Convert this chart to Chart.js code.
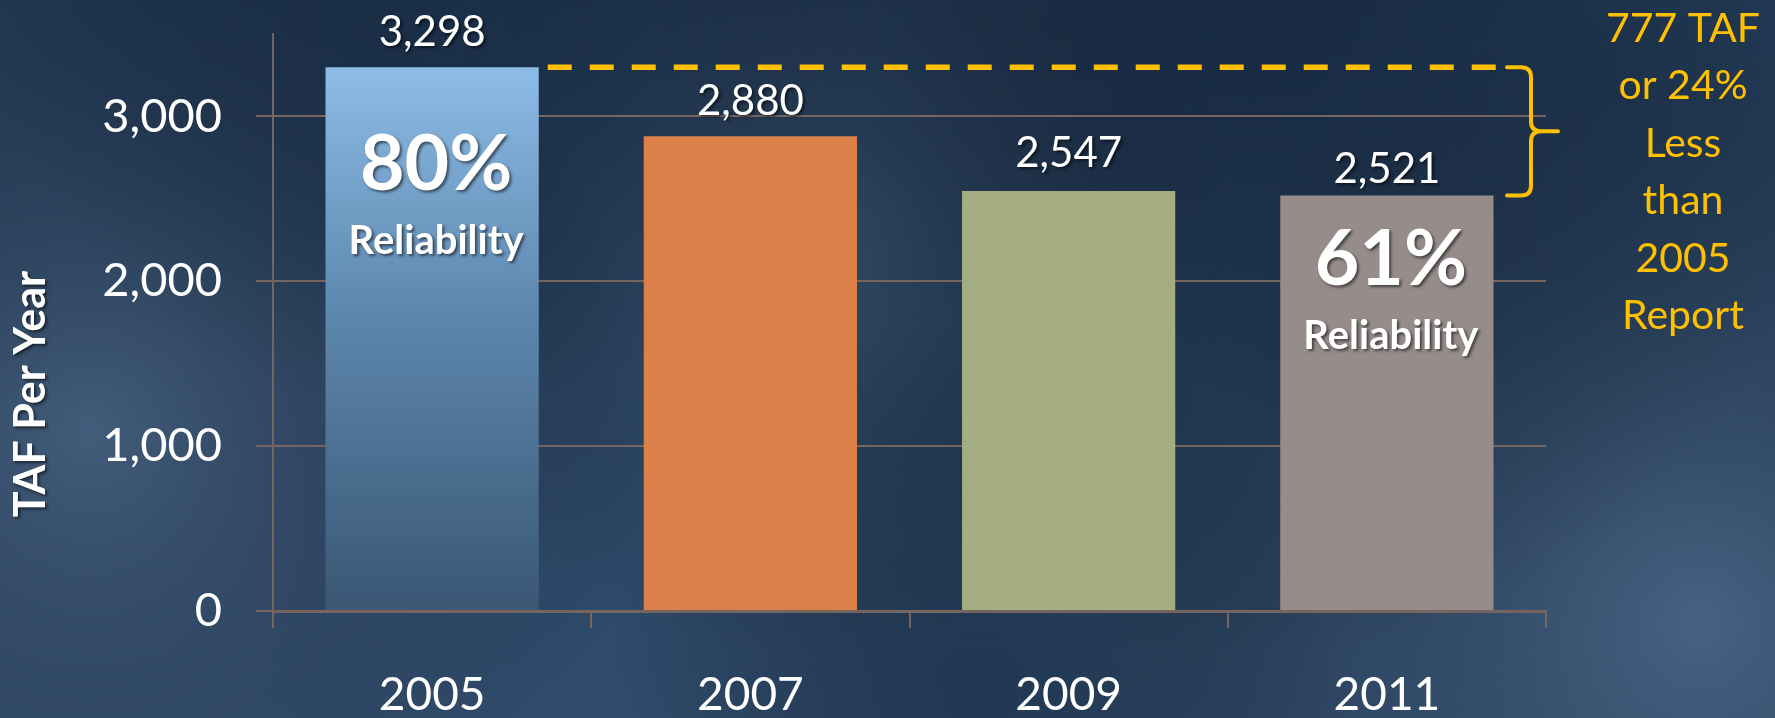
<!DOCTYPE html>
<html>
<head>
<meta charset="utf-8">
<title>TAF Per Year</title>
<script src="https://cdn.jsdelivr.net/npm/chart.js@4.4.1/dist/chart.umd.min.js"></script>
<style>
    html, body { margin: 0; padding: 0; background: #223a58; overflow: hidden; }
    #wrap { width: 1775px; height: 718px; position: relative; }
</style>
</head>
<body>
<div id="wrap"><canvas id="tafChart"></canvas></div>
<script>
// --- Datos del grafico ---
const years = ['2005', '2007', '2009', '2011'];
const tafValues = [3298, 2880, 2547, 2521];
const reliability = ['80%', '', '', '61%'];
const yTicks = [0, 1000, 2000, 3000];
const yMax = 3500;
const axisTitle = 'TAF Per Year';
const noteLines = ['777 TAF', 'or 24%', 'Less', 'than', '2005', 'Report'];

const barColors = ['#6d94bb', '#dc8049', '#a4ac82', '#968d8b'];
const gridColor = '#76655e';
const yellow = '#ffc000';
const fontFamily = 'Lato, "Open Sans", sans-serif';

document.addEventListener('DOMContentLoaded', () => {

    // --- Fondo azul con manchas de luz ---
    const fondoPlugin = {
        id: 'fondo',
        beforeDraw(chart) {
            const { ctx, width, height } = chart;
            ctx.save();
            const base = ctx.createLinearGradient(0, 0, 0, height);
            base.addColorStop(0, '#223b58');
            base.addColorStop(1, '#314d6e');
            ctx.fillStyle = base;
            ctx.fillRect(0, 0, width, height);

            const spot = (x, y, r, color) => {
                const g = ctx.createRadialGradient(x, y, 0, x, y, r);
                g.addColorStop(0, color);
                g.addColorStop(1, 'rgba(0,0,0,0)');
                ctx.fillStyle = g;
                ctx.fillRect(0, 0, width, height);
            };
            spot(90, 430, 560, 'rgba(95,120,150,0.45)');
            spot(1700, 620, 620, 'rgba(100,128,160,0.45)');
            spot(820, 240, 420, 'rgba(90,115,145,0.32)');
            spot(980, 700, 380, 'rgba(10,25,45,0.40)');
            spot(1250, 60, 600, 'rgba(10,22,40,0.45)');
            spot(430, -40, 460, 'rgba(10,22,40,0.35)');
            ctx.restore();
        }
    };

    // --- Etiquetas, linea punteada, llave y nota ---
    const anotacionesPlugin = {
        id: 'anotaciones',
        afterDatasetsDraw(chart, args, opts) {
            const { ctx, chartArea, scales: { y } } = chart;
            const bars = chart.getDatasetMeta(0).data;
            ctx.save();

            // linea punteada desde la barra de 2005 hasta la llave
            const yTop = y.getPixelForValue(tafValues[0]);
            const yLow = y.getPixelForValue(tafValues[tafValues.length - 1]);
            const armX = chartArea.right - 39;
            const braceX = chartArea.right - 15;
            const tipX = chartArea.right + 12;
            const firstRight = bars[0].x + bars[0].width / 2;

            ctx.strokeStyle = yellow;
            ctx.lineWidth = 5.5;
            ctx.setLineDash([24, 18]);
            ctx.beginPath();
            ctx.moveTo(firstRight + 9, yTop);
            ctx.lineTo(armX - 4, yTop);
            ctx.stroke();

            // llave
            ctx.setLineDash([]);
            ctx.lineWidth = 4;
            ctx.lineCap = 'round';
            ctx.lineJoin = 'round';
            const mid = (yTop + yLow) / 2;
            const r = 10;
            ctx.beginPath();
            ctx.moveTo(armX, yTop);
            ctx.lineTo(braceX - r, yTop);
            ctx.quadraticCurveTo(braceX, yTop, braceX, yTop + r);
            ctx.lineTo(braceX, mid - r);
            ctx.quadraticCurveTo(braceX, mid, braceX + r, mid);
            ctx.lineTo(tipX, mid);
            ctx.moveTo(braceX + r, mid);
            ctx.quadraticCurveTo(braceX, mid, braceX, mid + r);
            ctx.lineTo(braceX, yLow - r);
            ctx.quadraticCurveTo(braceX, yLow, braceX - r, yLow);
            ctx.lineTo(armX, yLow);
            ctx.stroke();

            // nota amarilla a la derecha
            ctx.fillStyle = yellow;
            ctx.font = `41px ${fontFamily}`;
            ctx.textAlign = 'center';
            ctx.textBaseline = 'alphabetic';
            noteLines.forEach((line, i) => {
                ctx.fillText(line, chartArea.right + 137, 42 + i * 57.4);
            });

            // valores sobre las barras
            ctx.shadowColor = 'rgba(0,0,0,0.55)';
            ctx.shadowOffsetX = 2;
            ctx.shadowOffsetY = 2;
            ctx.shadowBlur = 3;
            ctx.fillStyle = '#ffffff';
            ctx.font = `42px ${fontFamily}`;
            bars.forEach((bar, i) => {
                ctx.fillText(tafValues[i].toLocaleString('en-US'), bar.x, bar.y - opts.valueOffset[i]);
            });

            // confiabilidad dentro de las barras
            bars.forEach((bar, i) => {
                if (!reliability[i]) return;
                const base = bar.y + opts.pctOffset[i];
                ctx.font = `bold 77px ${fontFamily}`;
                ctx.fillText(reliability[i], bar.x + 4, base);
                ctx.font = `bold 40px ${fontFamily}`;
                ctx.fillText('Reliability', bar.x + 4, base + 64);
            });
            ctx.restore();
        },
        afterDraw(chart) {
            // titulo del eje Y
            const { ctx } = chart;
            ctx.save();
            ctx.translate(31, 394);
            ctx.rotate(-Math.PI / 2);
            ctx.shadowColor = 'rgba(0,0,0,0.55)';
            ctx.shadowOffsetX = 2;
            ctx.shadowOffsetY = 2;
            ctx.shadowBlur = 3;
            ctx.fillStyle = '#ffffff';
            ctx.font = `bold 43px ${fontFamily}`;
            ctx.textAlign = 'center';
            ctx.textBaseline = 'middle';
            ctx.fillText(axisTitle, 0, 0);
            ctx.restore();
        }
    };

    const ctxTaf = document.getElementById('tafChart').getContext('2d');

    new Chart(ctxTaf, {
        type: 'bar',
        data: {
            labels: years,
            datasets: [{
                label: axisTitle,
                data: tafValues,
                backgroundColor: (c) => {
                    if (c.dataIndex !== 0) return barColors[c.dataIndex];
                    const area = c.chart.chartArea;
                    if (!area) return barColors[0];
                    const top = c.chart.scales.y.getPixelForValue(tafValues[0]);
                    const g = c.chart.ctx.createLinearGradient(0, top, 0, area.bottom);
                    g.addColorStop(0, '#8dbce7');
                    g.addColorStop(0.45, '#5d87ad');
                    g.addColorStop(1, '#3a5774');
                    return g;
                },
                borderWidth: 0,
                categoryPercentage: 1,
                barPercentage: 0.67
            }]
        },
        options: {
            responsive: true,
            maintainAspectRatio: false,
            animation: false,
            layout: { padding: { top: 34, right: 229, left: 0, bottom: 0 } },
            scales: {
                x: {
                    grid: {
                        drawOnChartArea: false,
                        color: gridColor,
                        lineWidth: 2,
                        tickLength: 17
                    },
                    border: { color: gridColor, width: 3 },
                    ticks: {
                        color: '#ffffff',
                        font: { family: fontFamily, size: 46 },
                        padding: 40
                    },
                    afterFit: (axis) => { axis.height = 107; }
                },
                y: {
                    min: 0,
                    max: yMax,
                    afterBuildTicks: (axis) => {
                        axis.ticks = yTicks.map(v => ({ value: v }));
                    },
                    grid: {
                        color: gridColor,
                        lineWidth: 2,
                        tickLength: 17
                    },
                    border: { color: gridColor, width: 2 },
                    ticks: {
                        color: '#ffffff',
                        font: { family: fontFamily, size: 47 },
                        padding: 34,
                        callback: (value) => value.toLocaleString('en-US')
                    },
                    afterFit: (axis) => {
                        axis.width = 273;
                        axis.paddingTop = 0;
                        axis.paddingBottom = 0;
                    }
                }
            },
            plugins: {
                legend: { display: false },
                tooltip: { enabled: false },
                anotaciones: {
                    valueOffset: [21, 21, 24, 12],
                    pctOffset: [123, 0, 0, 90]
                }
            }
        },
        plugins: [fondoPlugin, anotacionesPlugin]
    });
});
</script>
</body>
</html>
